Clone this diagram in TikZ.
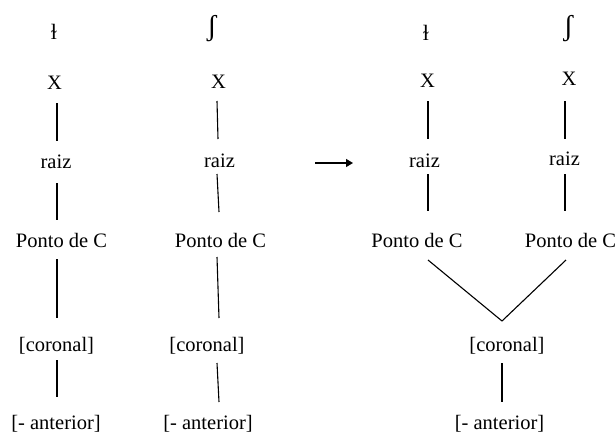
\documentclass[tikz,border=0pt]{standalone}
\usepackage{fontspec}
\setmainfont{Liberation Serif}
\usetikzlibrary{calc,arrows.meta}
\begin{document}
\begin{tikzpicture}[x=1pt,y=-1pt,
  lbl/.style={font=\fontsize{20.5}{24}\selectfont, inner sep=0pt, anchor=base},
  sym/.style={lbl, font=\fontsize{22}{26}\selectfont},
  esh/.style={lbl, font=\fontsize{29}{32}\selectfont},
  seg/.style={line width=1.7pt},
  fork/.style={line width=1.1pt}]
\useasboundingbox (0,0) rectangle (616,432);

% left: two separate trees
\node[sym] (t1) at (54,39)    {ɫ};
\node[lbl] (x1) at (54.5,89)  {X};
\node[lbl] (r1) at (56,168)   {raiz};
\node[lbl] (p1) at (61.5,247) {Ponto de C};
\node[lbl] (c1) at (56.5,351) {[coronal]};
\node[lbl] (a1) at (56,429)   {[- anterior]};

\node[esh] (t2) at (212,35)    {ʃ};
\node[lbl] (x2) at (218.5,88)  {X};
\node[lbl] (r2) at (219.5,167) {raiz};
\node[lbl] (p2) at (220.5,247) {Ponto de C};
\node[lbl] (c2) at (207,351)   {[coronal]};
\node[lbl] (a2) at (208,429)   {[- anterior]};

\draw[seg] ($(x1.base)+(2.5,14)$) -- ($(r1.base)+(1,-27)$);
\draw[seg] ($(r1.base)+(1,15)$) -- ($(p1.base)+(-4.5,-27)$);
\draw[seg] ($(p1.base)+(-4.5,12)$) -- ($(c1.base)+(0.5,-33)$);
\draw[seg] ($(c1.base)+(0.5,9)$) -- ($(a1.base)+(1,-32)$);

\draw[fork] ($(x2.base)+(-1.5,13)$) -- ($(r2.base)+(-1.5,-28)$);
\draw[fork] ($(r2.base)+(-2.5,7)$) -- ($(p2.base)+(-1.5,-35)$);
\draw[fork] ($(p2.base)+(-3.5,10)$) -- ($(c2.base)+(12,-33)$);
\draw[fork] ($(c2.base)+(10,12)$) -- ($(a2.base)+(11,-27)$);

% arrow
\coordinate (arrS) at (315,163);
\coordinate (arrE) at (353,163);
\draw[line width=1.3pt,-{Triangle[length=7pt,width=8pt]}] (arrS) -- (arrE);

% right: shared [coronal]
\node[sym] (t3) at (426,40)    {ɫ};
\node[lbl] (x3) at (427.5,87)  {X};
\node[lbl] (r3) at (424.5,167) {raiz};
\node[lbl] (p3) at (417,247)   {Ponto de C};
\node[lbl] (c3) at (507,351)   {[coronal]};
\node[lbl] (a3) at (499.5,429) {[- anterior]};

\node[esh] (t4) at (568.5,35)  {ʃ};
\node[lbl] (x4) at (569,85)    {X};
\node[lbl] (r4) at (564.5,165) {raiz};
\node[lbl] (p4) at (570.5,247) {Ponto de C};

\draw[seg] ($(x3.base)+(0.5,14)$) -- ($(r3.base)+(3.5,-28)$);
\draw[seg] ($(r3.base)+(3.5,7)$) -- ($(p3.base)+(11,-36)$);
\draw[seg] ($(x4.base)+(-4,16)$) -- ($(r4.base)+(0.5,-26)$);
\draw[seg] ($(r4.base)+(0.5,9)$) -- ($(p4.base)+(-5.5,-36)$);
\draw[fork] ($(p3.base)+(11,13)$) -- ($(c3.base)+(-5,-30)$);
\draw[fork] ($(p4.base)+(-4.5,13)$) -- ($(c3.base)+(-5,-30)$);
\draw[seg] ($(c3.base)+(-5,12)$) -- ($(a3.base)+(2.5,-27)$);
\end{tikzpicture}
\end{document}
